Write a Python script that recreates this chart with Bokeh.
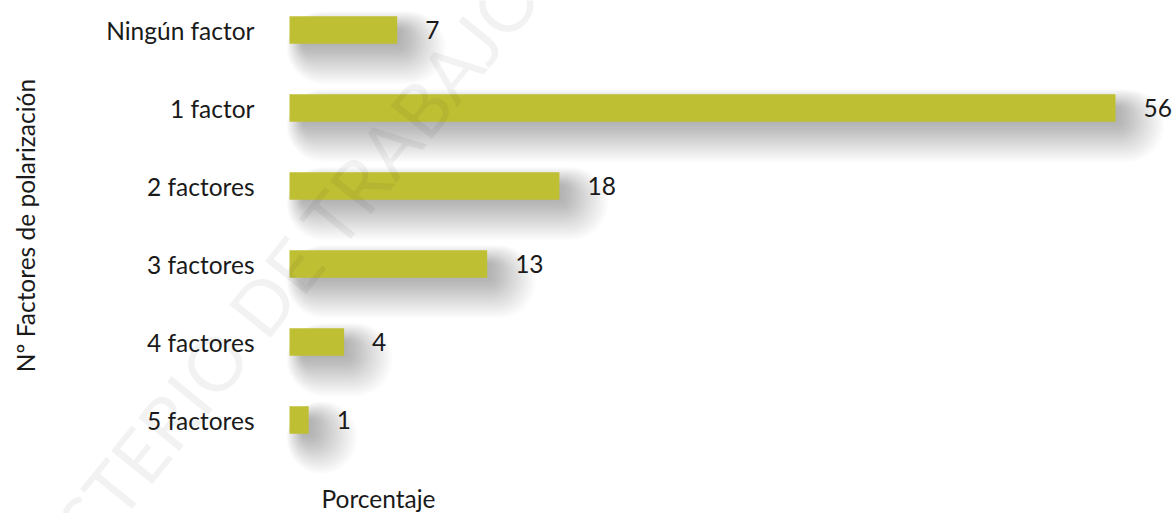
import math
from bokeh.plotting import figure
from bokeh.models import Range1d, ColumnDataSource
from bokeh.core.properties import value
from bokeh.embed import file_html
from bokeh.resources import INLINE

# ---- data ----
categories = ["Ningún factor", "1 factor", "2 factores", "3 factores", "4 factores", "5 factores"]
values = [7.3, 56.0, 18.3, 13.4, 3.7, 1.3]
value_labels = ["7", "56", "18", "13", "4", "1"]
y_title = "Nº Factores de polarización"
x_title = "Porcentaje"
watermark = "MINISTERIO DE TRABAJO"

# ---- layout constants (pixels) ----
W, H = 1176, 513
X0_PX = 289.0          # pixel position of x = 0
PX_X = 14.75           # pixels per percentage unit
Y0_PX = 29.5           # pixel position of first category centre
PX_Y = 78.0            # pixels per category step

FONT = value("Lato")
BAR = "#BFBF34"
TXT = "#1a1a1a"
FS = "24.5px"


def dx_(px):
    return px / PX_X


def dy_(px):
    return px / PX_Y


x_range = Range1d(-X0_PX / PX_X, (W - X0_PX) / PX_X)
y_range = Range1d((H - Y0_PX) / PX_Y, -Y0_PX / PX_Y)   # flipped: first category on top

p = figure(width=W, height=H, x_range=x_range, y_range=y_range,
           output_backend="svg", toolbar_location=None,
           x_axis_location=None, y_axis_location=None,
           min_border=0, min_border_left=0, min_border_right=0,
           min_border_top=0, min_border_bottom=0)
p.grid.visible = False
p.outline_line_color = None
p.background_fill_color = "white"
p.border_fill_color = "white"

ys = list(range(len(categories)))
bar_h = dy_(27.5)

# ---- soft drop shadow (layered translucent rounded rectangles, falls down-right) ----
for k in range(22):
    s = -8 + k * 2.4
    src = ColumnDataSource(dict(
        left=[dx_(12 - 0.35 * s) for _ in values],
        right=[v + dx_(6 + s) for v in values],
        top=[y - bar_h / 2 + dy_(12 - 0.4 * s) for y in ys],
        bottom=[y + bar_h / 2 + dy_(4 + 0.85 * s) for y in ys],
    ))
    p.quad(left="left", right="right", top="top", bottom="bottom",
           source=src, fill_color="#000000", fill_alpha=0.015, line_color=None,
           border_radius=int(round(max(s, 0) * 0.9 + 4)))

# ---- bars ----
src = ColumnDataSource(dict(y=ys, v=values, cat=categories, lab=value_labels))
p.hbar(y="y", left=0, right="v", height=bar_h, source=src,
       fill_color=BAR, line_color=None)

# ---- value labels ----
p.text(x="v", y="y", text="lab", source=src, x_offset=28,
       text_align="left", text_baseline="middle",
       text_font=FONT, text_font_size=FS, text_color=TXT)

# ---- category labels ----
cat_x = dx_(254 - X0_PX)
p.text(x=[cat_x] * len(ys), y=ys, text=categories,
       text_align="right", text_baseline="middle",
       text_font=FONT, text_font_size=FS, text_color=TXT)

# ---- axis titles ----
p.text(x=[dx_(25 - X0_PX)], y=[dy_(225 - Y0_PX)], text=[y_title],
       angle=math.pi / 2, text_align="center", text_baseline="middle",
       text_font=FONT, text_font_size=FS, text_color=TXT)
p.text(x=[dx_(378 - X0_PX)], y=[dy_(498 - Y0_PX)], text=[x_title],
       text_align="center", text_baseline="middle",
       text_font=FONT, text_font_size=FS, text_color=TXT)

# ---- watermark ----
p.text(x=[dx_(246 - X0_PX)], y=[dy_(322 - Y0_PX)], text=[watermark],
       angle=math.radians(51), text_align="center", text_baseline="middle",
       text_font=FONT, text_font_size="74px", text_color="#000000", text_alpha=0.05)

open("out.html", "w").write(file_html(p, INLINE))
